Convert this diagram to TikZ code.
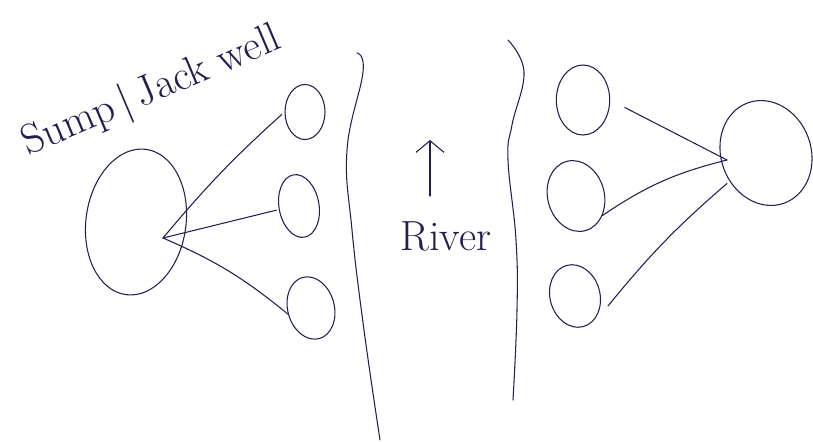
\documentclass[tikz,border=0pt]{standalone}
\usetikzlibrary{shapes.geometric,arrows.meta}
\definecolor{ink}{RGB}{34,30,78}
\begin{document}
\begin{tikzpicture}[x=0.03cm,y=-0.03cm,
  pen/.style={draw=ink, line width=0.9pt, line cap=round, line join=round},
  pool/.style={pen, ellipse, inner sep=0pt},
  label/.style={text=ink, font=\fontsize{36}{40}\selectfont, inner sep=0pt}]
\useasboundingbox[fill=white] (0,0) rectangle (813,441);

% sump / jack well and intake pipes (left bank)
\node[pool, minimum width=3cm, minimum height=4.4cm, rotate=-8] (sump) at (136,222) {};
\node[pool, minimum width=1.2cm, minimum height=1.65cm] (a1) at (305,112) {};
\node[pool, minimum width=1.2cm, minimum height=1.9cm, rotate=10] (a2) at (299,206) {};
\node[pool, minimum width=1.4cm, minimum height=1.9cm, rotate=15] (a3) at (311,308) {};
\coordinate (hubL) at (163,238);
\draw[pen, shorten >=3pt] (hubL) to[bend left=4] (a1.west);
\draw[pen, shorten >=2pt] (hubL) -- (a2.west);
\draw[pen] (hubL) to[bend left=8] (a3.west);

\node[label, rotate=23] (title) at (152,92) {Sump\,|\,Jack well};

% river
\draw[pen] plot[smooth, tension=0.7] coordinates {(357,53) (363,72) (347,150) (352,230) (364,330) (380,440)};
\draw[pen] plot[smooth, tension=0.7] coordinates {(508,40) (524,72) (512,125) (508,160) (516,240) (517,310) (513,400)};
\coordinate (flowtail) at (430,196);
\coordinate (flowhead) at (430,140);
\draw[pen, -{Straight Barb[length=10pt,width=24pt]}] (flowtail) -- (flowhead);
\node[label] (river) at (446,236) {River};

% right bank: outlets and well
\node[pool, minimum width=1.6cm, minimum height=2.1cm] (b1) at (583,100) {};
\node[pool, minimum width=1.7cm, minimum height=2.15cm, rotate=15] (b2) at (576,196) {};
\node[pool, minimum width=1.5cm, minimum height=1.9cm, rotate=15] (b3) at (575,296) {};
\node[pool, minimum width=2.7cm, minimum height=3.2cm, rotate=20] (well) at (766,153) {};
\coordinate (hubR) at (727,160);
\coordinate (b3out) at (608,306);
\draw[pen, shorten <=14pt] (b1.east) -- (hubR);
\draw[pen] (b2.south east) to[bend left=10] (hubR);
\draw[pen] (b3out) to[bend left=5] ([yshift=-20]hubR);
\end{tikzpicture}
\end{document}
